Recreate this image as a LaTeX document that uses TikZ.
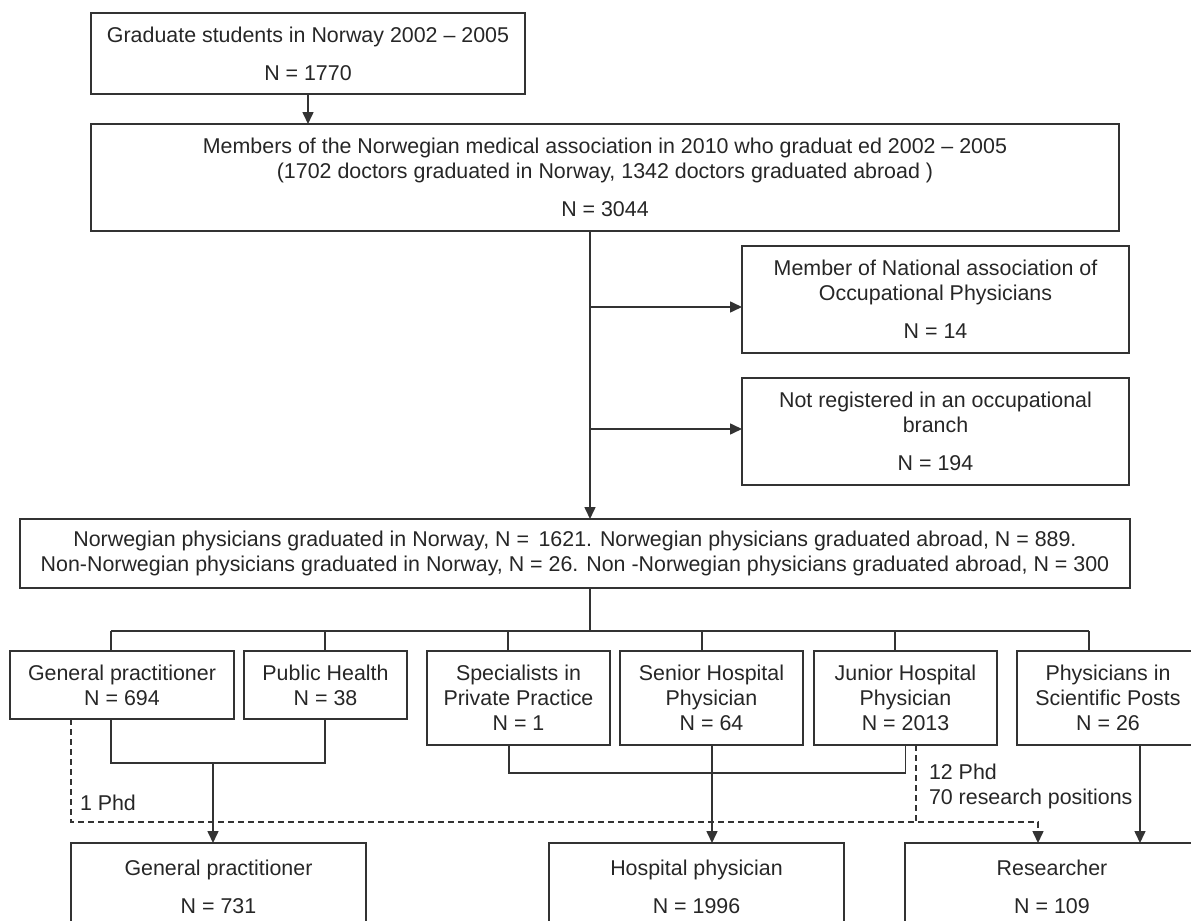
\documentclass[tikz,border=0pt]{standalone}
\usepackage{fontspec}
\setmainfont{Liberation Sans}
\usetikzlibrary{arrows.meta}

\begin{document}
\begin{tikzpicture}[x=0.5pt, y=-0.5pt,
  every node/.style={font=\fontsize{10.7}{12.5}\selectfont, text=black!85, inner sep=0pt, outer sep=0pt},
  box/.style={draw=black!80, line width=0.8pt, align=center},
  link/.style={draw=black!80, line width=0.8pt},
  arrow/.style={link, -{Triangle[length=6pt, width=5.5pt]}},
  phd/.style={dash pattern=on 3pt off 2pt}]
\useasboundingbox (0,0) rectangle (1191,921);
\clip (0,0) rectangle (1191,921);

\node[box, minimum width=217pt, minimum height=40.5pt] (grad) at (308,53.5) {Graduate students in Norway 2002 -- 2005\\[6.5pt]N = 1770};
\node[box, minimum width=514pt, minimum height=53.5pt] (members) at (605,177.5) {Members of the Norwegian medical association in 2010 who graduat ed 2002 -- 2005\\(1702 doctors graduated in Norway, 1342 doctors graduated abroad )\\[6.5pt]N = 3044};
\node[box, minimum width=193.5pt, minimum height=53.5pt] (occ) at (935.5,299.5) {Member of National association of\\Occupational Physicians\\[6.5pt]N = 14};
\node[box, minimum width=193.5pt, minimum height=53.5pt] (notreg) at (935.5,431.5) {Not registered in an occupational\\branch\\[6.5pt]N = 194};
\node[box, minimum width=555pt, minimum height=34.5pt] (phys) at (575,553.5) {Norwegian physicians graduated in Norway, N = \,1621. Norwegian physicians graduated abroad, N = 889.\\Non-Norwegian physicians graduated in Norway, N = 26. Non -Norwegian physicians graduated abroad, N = 300};

\node[box, minimum width=112pt, minimum height=34pt] (gp) at (122,685) {General practitioner\\N = 694};
\node[box, minimum width=81.5pt, minimum height=34pt] (ph) at (325.5,685) {Public Health\\N = 38};
\node[box, minimum width=91.5pt, minimum height=47pt] (spec) at (518.5,698) {Specialists in\\Private Practice\\N = 1};
\node[box, minimum width=91.5pt, minimum height=47pt] (senior) at (711.5,698) {Senior Hospital\\Physician\\N = 64};
\node[box, minimum width=91.5pt, minimum height=47pt] (junior) at (905.5,698) {Junior Hospital\\Physician\\N = 2013};
\node[box, minimum width=91pt, minimum height=47pt] (sci) at (1108,698) {Physicians in\\Scientific Posts\\N = 26};

\node[box, minimum width=147.5pt, minimum height=43.5pt] (gpend) at (218.5,886.5) {General practitioner\\[6.5pt]N = 731};
\node[box, minimum width=147.5pt, minimum height=43.5pt] (hosp) at (696.5,886.5) {Hospital physician\\[6.5pt]N = 1996};
\node[box, minimum width=147pt, minimum height=43.5pt] (res) at (1052,886.5) {Researcher\\[6.5pt]N = 109};

\node[anchor=west] (phdgp) at (80,803) {1 Phd};
\node[anchor=west, align=left] (phdjr) at (929,786) {12 Phd\\70 research positions};

\coordinate (trunk) at (590,0);
\coordinate (fork1) at (590,307);
\coordinate (fork2) at (590,429);
\coordinate (busl) at (111,631);
\coordinate (busr) at (1089,631);
\coordinate (gpjoin) at (213,763);

\draw[arrow] (grad.south) -- (grad.south |- members.north);
\draw[arrow] (members.south -| trunk) -- (phys.north -| trunk);
\draw[arrow] (fork1) -- (fork1 -| occ.west);
\draw[arrow] (fork2) -- (fork2 -| notreg.west);

\draw[link] (phys.south -| trunk) -- (trunk |- busl);
\draw[link] (busl) -- (busr);
\foreach \n/\x in {gp/111, ph/325, spec/508, senior/702, junior/895, sci/1089}
  \draw[link] (\x,631) -- (\n.north -| \x,0);

\draw[link] (gp.south -| 111,0) -- ++(0,44) -| (ph.south -| 325,0);
\draw[arrow] (gpjoin) -- (gpend.north -| gpjoin);
\draw[link] (spec.south -| 509,0) -- ++(0,28) -| (junior.south);
\draw[arrow] (senior.south -| 712,0) -- (hosp.north -| 712,0);
\draw[arrow] (sci.south -| 1140,0) -- (res.north -| 1140,0);

\draw[arrow, phd] (gp.south -| 71,0) -- ++(0,103) -| (res.north -| 1038,0);
\draw[link, phd] (junior.south -| 916,0) -- ++(0,77);
\end{tikzpicture}
\end{document}
